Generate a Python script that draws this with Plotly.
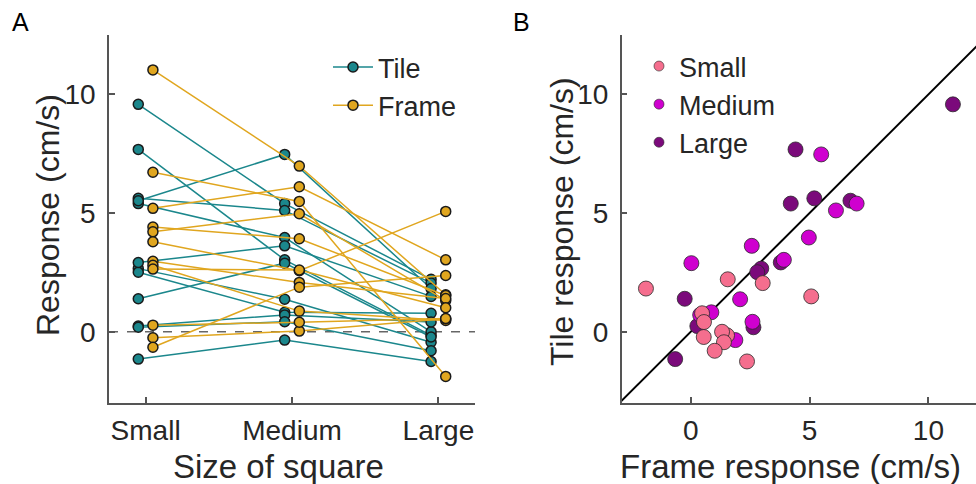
import plotly.graph_objects as go

# ---- data (one entry per subject, same order in every list) ----
sizes = ["Small", "Medium", "Large"]
tile_small   = [9.58, 7.68, 5.40, 5.62, 5.52, 2.66, 2.51, 2.92, 1.39, 0.24, 0.19, -1.15]
tile_medium  = [5.40, 3.03, 3.97, 5.11, 7.47, 1.37, 0.82, 3.62, 2.89, 0.71, 0.42, -0.35]
tile_large   = [2.21, -0.15, 0.00, 2.05, 1.82, -0.44, 0.78, 1.49, -0.22, 0.41, -0.80, -1.25]
frame_small  = [11.03, 4.41, 4.21, 5.20, 6.72, 2.97, 2.80, 3.79, -0.25, 0.28, 2.64, -0.65]
frame_medium = [6.98, 3.92, 4.97, 6.11, 5.49, 2.08, 0.87, 2.57, 0.03, 0.40, 2.60, 1.88]
frame_large  = [1.56, 1.53, 1.32, 3.03, -1.88, 1.40, 0.48, 5.07, 0.55, 0.56, 1.01, 2.37]

# panel B groups as labelled in its legend
b_labels = ["Small", "Medium", "Large"]
b_frame = [frame_large, frame_medium, frame_small]
b_tile = [tile_large, tile_medium, tile_small]

TEAL = "#1b878c"
GOLD = "#e0a61f"
B_COLORS = ["#f56e8e", "#cf00cf", "#7b0a7b"]
TXT = "#262626"
AX = "#555555"
FONT = "Liberation Sans, Arial, sans-serif"

fig = go.Figure()

def series(vals, offset):
    xs, ys = [], []
    for i in range(len(vals[0])):
        for k in range(3):
            xs.append(k + 1 + offset)
            ys.append(vals[k][i])
        xs.append(None)
        ys.append(None)
    return xs, ys

for name, vals, col, off in [("Tile", [tile_small, tile_medium, tile_large], TEAL, -0.05),
                             ("Frame", [frame_small, frame_medium, frame_large], GOLD, 0.05)]:
    xs, ys = series(vals, off)
    fig.add_trace(go.Scatter(
        x=xs, y=ys, mode="lines+markers", name=name, connectgaps=False,
        line=dict(color=col, width=1.5),
        marker=dict(color=col, size=10, line=dict(color="#1a1a1a", width=1.5)),
        xaxis="x", yaxis="y", legend="legend"))

# identity line in panel B
fig.add_trace(go.Scatter(x=[-4, 14], y=[-4, 14], mode="lines",
                         line=dict(color="black", width=2), showlegend=False,
                         xaxis="x2", yaxis="y2", hoverinfo="skip"))

for idx in [2, 1, 0]:
    fig.add_trace(go.Scatter(
        x=b_frame[idx], y=b_tile[idx], mode="markers", name=b_labels[idx],
        marker=dict(color=B_COLORS[idx], size=15, line=dict(color="#2a2a2a", width=0.8)),
        xaxis="x2", yaxis="y2", showlegend=False))

# legend entries for panel B (smaller symbols, as in the legend box)
for idx in range(3):
    fig.add_trace(go.Scatter(
        x=[None], y=[None], mode="markers", name=b_labels[idx],
        marker=dict(color=B_COLORS[idx], size=10, line=dict(color="#2a2a2a", width=0.6)),
        xaxis="x2", yaxis="y2", legend="legend2"))

W, H = 976, 484
def px(x):
    return x / W
def py(y):
    return 1 - y / H

axis_common = dict(showline=True, linecolor=AX, linewidth=1.5, ticks="inside",
                   ticklen=6, tickcolor=AX, tickwidth=1.5, showgrid=False, zeroline=False,
                   tickfont=dict(family=FONT, size=28, color=TXT))

def label(text, x, y, size, angle=0, color=TXT):
    return dict(text=text, x=px(x), y=py(y), xref="paper", yref="paper", showarrow=False,
                xanchor="center", yanchor="middle", textangle=angle,
                font=dict(family=FONT, size=size, color=color))

fig.update_layout(
    width=W, height=H, margin=dict(l=0, r=0, t=0, b=0),
    paper_bgcolor="white", plot_bgcolor="white",
    xaxis=dict(domain=[px(109), px(475)], range=[0.75, 3.25], tickvals=[1, 2, 3],
               ticktext=sizes, anchor="y", ticklabelstandoff=2, **axis_common),
    yaxis=dict(domain=[py(403), py(35)], range=[-3, 12.5], tickvals=[0, 5, 10],
               anchor="x", ticklabelstandoff=6, **axis_common),
    xaxis2=dict(domain=[px(621.7), 1.0], range=[-2.9, 12.0], tickvals=[0, 5, 10],
                anchor="y2", ticklabelstandoff=2, **axis_common),
    yaxis2=dict(domain=[py(403), py(35)], range=[-3, 12.5], tickvals=[0, 5, 10],
                anchor="x2", ticklabelstandoff=6, **axis_common),
    legend=dict(x=px(328), y=py(43), xanchor="left", yanchor="top",
                font=dict(family=FONT, size=27, color=TXT), bgcolor="rgba(0,0,0,0)",
                tracegroupgap=0, itemwidth=40),
    legend2=dict(x=px(639), y=py(42), xanchor="left", yanchor="top",
                 font=dict(family=FONT, size=27, color=TXT), bgcolor="rgba(0,0,0,0)",
                 itemsizing="trace", tracegroupgap=0, itemwidth=30),
    shapes=[dict(type="line", xref="x domain", yref="y", x0=0, x1=1, y0=0, y1=0,
                 line=dict(color="#666666", width=1.5, dash="dash"), layer="below")],
    annotations=[
        label("A", 20, 22, 25, color="black"),
        label("B", 521, 22, 25, color="black"),
        label("Response (cm/s)", 48, 215, 32, angle=-90),
        label("Size of square", 278, 466, 33),
        label("Tile response (cm/s)", 562, 222, 32, angle=-90),
        label("Frame response (cm/s)", 790, 466, 33),
    ],
)

fig.write_html("out.html", config={"displayModeBar": False},
               post_script="document.body.style.margin='0';document.body.style.overflow='hidden';")
